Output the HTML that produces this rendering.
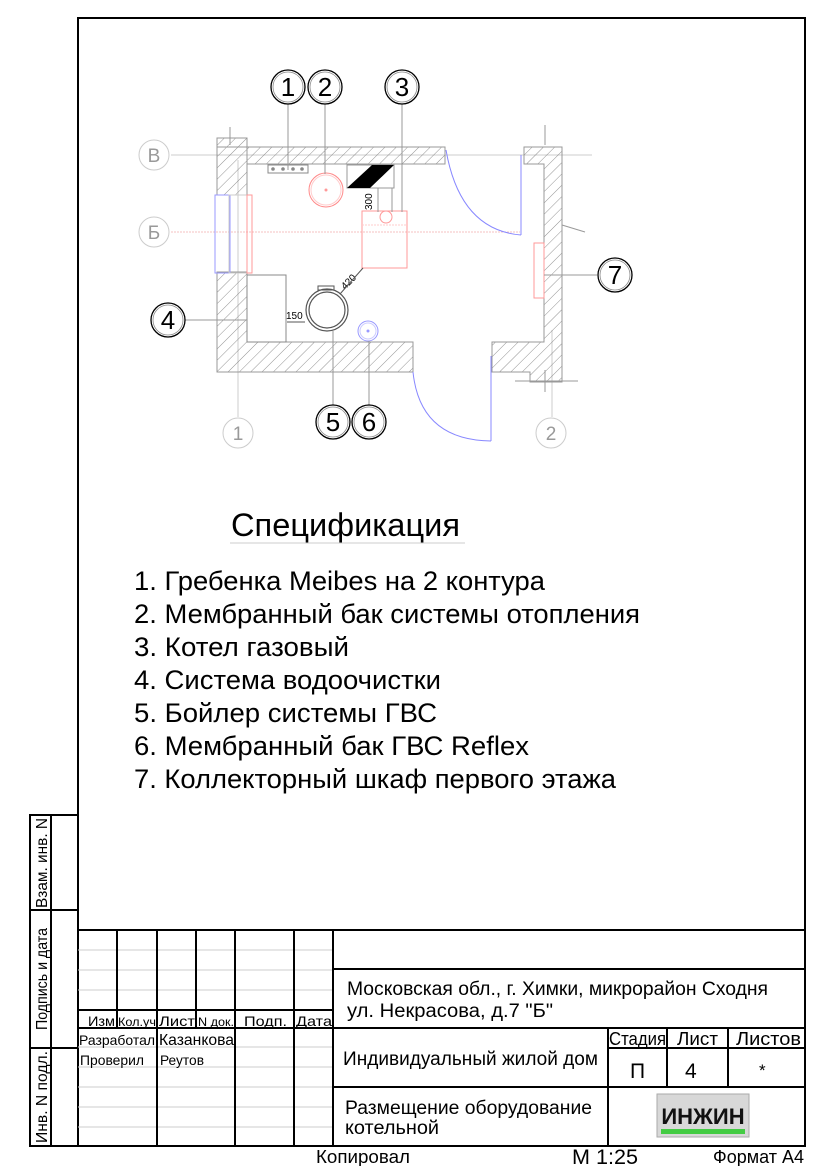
<!DOCTYPE html>
<html><head><meta charset="utf-8"><style>
html,body{margin:0;padding:0;background:#fff}
svg{display:block}
text{font-family:"Liberation Sans","DejaVu Sans",sans-serif}
</style></head><body>
<svg width="824" height="1166" viewBox="0 0 824 1166" xmlns="http://www.w3.org/2000/svg">
<defs>
<pattern id="h" width="8" height="8" patternUnits="userSpaceOnUse" patternTransform="rotate(45)">
<line x1="0" y1="0" x2="0" y2="8" stroke="#777" stroke-width="0.8"/>
</pattern>
</defs>
<rect width="824" height="1166" fill="#fff"/>
<rect x="78" y="18" width="727" height="1128" fill="none" stroke="#000" stroke-width="2"/>
<g stroke="#000" stroke-width="2" fill="none">
<rect x="30" y="815" width="48" height="331"/>
<line x1="51" y1="815" x2="51" y2="1146"/>
<line x1="30" y1="910" x2="78" y2="910"/>
<line x1="30" y1="1048" x2="78" y2="1048"/>
</g>
<g font-size="16" fill="#000">
<text transform="translate(47,908) rotate(-90)" textLength="90" lengthAdjust="spacingAndGlyphs">Взам. инв. N</text>
<text transform="translate(47,1030) rotate(-90)" textLength="102" lengthAdjust="spacingAndGlyphs">Подпись и дата</text>
<text transform="translate(47,1143) rotate(-90)" textLength="92" lengthAdjust="spacingAndGlyphs">Инв. N подл.</text>
</g>
<g stroke="#ccc" stroke-width="1">
<line x1="78" y1="950" x2="333" y2="950"/><line x1="78" y1="970" x2="333" y2="970"/><line x1="78" y1="990" x2="333" y2="990"/>
<line x1="78" y1="1047" x2="333" y2="1047"/><line x1="78" y1="1067" x2="333" y2="1067"/><line x1="78" y1="1087" x2="333" y2="1087"/><line x1="78" y1="1107" x2="333" y2="1107"/><line x1="78" y1="1127" x2="333" y2="1127"/>
</g>
<g stroke="#000" stroke-width="2" fill="none">
<line x1="78" y1="930" x2="805" y2="930"/>
<line x1="78" y1="1010" x2="333" y2="1010"/>
<line x1="78" y1="1028" x2="805" y2="1028"/>
<line x1="333" y1="969" x2="805" y2="969"/>
<line x1="333" y1="1087" x2="805" y2="1087"/>
<line x1="608" y1="1048" x2="805" y2="1048"/>
<line x1="117" y1="930" x2="117" y2="1028"/>
<line x1="157" y1="930" x2="157" y2="1146"/>
<line x1="196" y1="930" x2="196" y2="1028"/>
<line x1="235" y1="930" x2="235" y2="1146"/>
<line x1="294" y1="930" x2="294" y2="1146"/>
<line x1="333" y1="930" x2="333" y2="1146"/>
<line x1="608" y1="1028" x2="608" y2="1146"/>
<line x1="667" y1="1028" x2="667" y2="1087"/>
<line x1="728" y1="1028" x2="728" y2="1087"/>
</g>
<g fill="#000">
<text x="88" y="1026" font-size="14" textLength="27" lengthAdjust="spacingAndGlyphs">Изм</text>
<text x="118" y="1026" font-size="12" textLength="38" lengthAdjust="spacingAndGlyphs">Кол.уч</text>
<text x="159" y="1026" font-size="14" textLength="36" lengthAdjust="spacingAndGlyphs">Лист</text>
<text x="198" y="1026" font-size="12" textLength="36" lengthAdjust="spacingAndGlyphs">N док.</text>
<text x="244" y="1026" font-size="14" textLength="43" lengthAdjust="spacingAndGlyphs">Подп.</text>
<text x="296" y="1026" font-size="14" textLength="36" lengthAdjust="spacingAndGlyphs">Дата</text>
<text x="79" y="1045" font-size="14" textLength="76" lengthAdjust="spacingAndGlyphs">Разработал</text>
<text x="159" y="1045" font-size="16" textLength="75" lengthAdjust="spacingAndGlyphs">Казанкова</text>
<text x="80" y="1065" font-size="14" textLength="64" lengthAdjust="spacingAndGlyphs">Проверил</text>
<text x="160" y="1065" font-size="14" textLength="44" lengthAdjust="spacingAndGlyphs">Реутов</text>
<text x="347" y="995" font-size="19" textLength="421" lengthAdjust="spacingAndGlyphs">Московская обл., г. Химки, микрорайон Сходня</text>
<text x="347" y="1017" font-size="19" textLength="206" lengthAdjust="spacingAndGlyphs">ул. Некрасова, д.7 "Б"</text>
<text x="343" y="1065" font-size="19" textLength="255" lengthAdjust="spacingAndGlyphs">Индивидуальный жилой дом</text>
<text x="345" y="1114" font-size="19" textLength="247" lengthAdjust="spacingAndGlyphs">Размещение оборудование</text>
<text x="345" y="1134" font-size="19" textLength="94" lengthAdjust="spacingAndGlyphs">котельной</text>
<text x="609" y="1045" font-size="18" textLength="57" lengthAdjust="spacingAndGlyphs">Стадия</text>
<text x="677" y="1045" font-size="18" textLength="41" lengthAdjust="spacingAndGlyphs">Лист</text>
<text x="736" y="1045" font-size="18" textLength="65" lengthAdjust="spacingAndGlyphs">Листов</text>
<text x="630" y="1078" font-size="21">П</text>
<text x="685" y="1078" font-size="21">4</text>
<text x="759" y="1076" font-size="17">*</text>
<text x="316" y="1163" font-size="18" textLength="94" lengthAdjust="spacingAndGlyphs">Копировал</text>
<text x="572" y="1164" font-size="21" textLength="66" lengthAdjust="spacingAndGlyphs">М 1:25</text>
<text x="713" y="1163" font-size="18" textLength="91" lengthAdjust="spacingAndGlyphs">Формат А4</text>
</g>
<rect x="657" y="1094" width="92" height="43" fill="#d8d8d8" stroke="#aaa"/>
<text x="703" y="1124" font-size="22" font-weight="bold" text-anchor="middle" fill="#111">ИНЖИН</text>
<rect x="661" y="1129" width="84" height="5" fill="#4c4"/>
<g fill="#000">
<text x="231" y="536" font-size="32" textLength="229" lengthAdjust="spacingAndGlyphs">Спецификация</text>
<line x1="230" y1="543" x2="465" y2="543" stroke="#ccc"/>
<text x="134" y="590" font-size="27" textLength="411" lengthAdjust="spacingAndGlyphs">1. Гребенка Meibes на 2 контура</text>
<text x="134" y="623" font-size="27" textLength="506" lengthAdjust="spacingAndGlyphs">2. Мембранный бак системы отопления</text>
<text x="134" y="656" font-size="27" textLength="215" lengthAdjust="spacingAndGlyphs">3. Котел газовый</text>
<text x="134" y="689" font-size="27" textLength="307" lengthAdjust="spacingAndGlyphs">4. Система водоочистки</text>
<text x="134" y="722" font-size="27" textLength="303" lengthAdjust="spacingAndGlyphs">5. Бойлер системы ГВС</text>
<text x="134" y="755" font-size="27" textLength="395" lengthAdjust="spacingAndGlyphs">6. Мембранный бак ГВС Reflex</text>
<text x="134" y="788" font-size="27" textLength="482" lengthAdjust="spacingAndGlyphs">7. Коллекторный шкаф первого этажа</text>
</g>
<g stroke="#ccc" stroke-width="1" fill="none">
<line x1="171" y1="155" x2="592" y2="155"/>
<line x1="171" y1="232" x2="520" y2="232" stroke="#f4c0c0" stroke-dasharray="2,1"/>
<line x1="238" y1="160" x2="238" y2="417"/>
<line x1="552" y1="330" x2="552" y2="417"/>
<circle cx="154" cy="155" r="15"/><circle cx="154" cy="232" r="15"/>
<circle cx="238" cy="433" r="15"/><circle cx="551" cy="433" r="15"/>
</g>
<g fill="#999" font-size="19" text-anchor="middle">
<text x="154" y="162">В</text><text x="154" y="239">Б</text>
<text x="238" y="440">1</text><text x="551" y="440">2</text>
</g>
<g fill="url(#h)" stroke="#999" stroke-width="1">
<path d="M217,138 H247 V164 H445 V147 H217 Z"/>
<path d="M217,147 H247 V195 H217 Z"/>
<path d="M217,272 H247 V342 H413 V372 H217 Z"/>
<path d="M492,342 H544 V164 H524 V147 H562 V382 H530 V372 H492 Z"/>
</g>
<g stroke="#999" fill="none" stroke-width="1">
<line x1="230" y1="127" x2="230" y2="145"/><line x1="545" y1="125" x2="545" y2="145"/>
<line x1="562" y1="225" x2="585" y2="232"/><line x1="515" y1="381" x2="578" y2="381"/>
<line x1="545" y1="370" x2="545" y2="392"/>
</g>
<g stroke="#aab" fill="none" stroke-width="1">
<rect x="215" y="195" width="15" height="78" stroke="#99f"/>
<rect x="229" y="195" width="18" height="78" stroke="#ccc"/>
<rect x="247" y="195" width="5" height="78" stroke="#f99"/>
</g>
<g stroke="#88f" fill="none" stroke-width="1">
<path d="M446,150 Q460,230 521,235"/><line x1="521" y1="155" x2="521" y2="235"/>
<path d="M413,372 Q420,440 491,441"/><line x1="491" y1="356" x2="491" y2="441"/>
</g>
<rect x="268" y="165" width="40" height="8" fill="none" stroke="#888"/>
<g fill="#888"><circle cx="273" cy="169" r="1.8"/><circle cx="283" cy="169" r="1.8"/><circle cx="293" cy="169" r="1.8"/><circle cx="302" cy="169" r="1.8"/></g>
<circle cx="326" cy="190" r="17" fill="none" stroke="#f88"/><circle cx="326" cy="190" r="15" fill="none" stroke="#fcc"/>
<rect x="347" y="165" width="47" height="23" fill="none" stroke="#999"/>
<polygon points="347,188 372,165 394,165 370,188" fill="#000"/>
<rect x="362" y="211" width="45" height="57" fill="none" stroke="#f99"/>
<line x1="362" y1="225" x2="407" y2="225" stroke="#fcc" stroke-dasharray="2,1"/>
<circle cx="386" cy="217" r="6" fill="none" stroke="#f99"/>
<line x1="378" y1="188" x2="378" y2="212" stroke="#999"/><line x1="392" y1="188" x2="392" y2="212" stroke="#999"/>
<text transform="translate(372,210) rotate(-90)" font-size="10">300</text>
<text transform="translate(345,290) rotate(-45)" font-size="10">420</text>
<line x1="340" y1="294" x2="363" y2="268" stroke="#555"/>
<rect x="247" y="275" width="39" height="67" fill="none" stroke="#888"/>
<text x="286" y="319" font-size="10">150</text>
<line x1="287" y1="322" x2="305" y2="322" stroke="#555"/>
<circle cx="327" cy="310" r="21" fill="none" stroke="#555" stroke-width="1.2"/>
<circle cx="327" cy="310" r="18" fill="none" stroke="#555" stroke-width="1.2"/>
<rect x="318" y="286" width="16" height="4" fill="none" stroke="#555"/>
<circle cx="368" cy="331" r="10" fill="none" stroke="#99f"/><circle cx="368" cy="331" r="8" fill="none" stroke="#ccf"/>
<circle cx="368" cy="331" r="1.5" fill="#99f"/><circle cx="326" cy="190" r="1.5" fill="#f99"/>
<rect x="534" y="243" width="10" height="55" fill="none" stroke="#f99"/>
<g stroke="#999" fill="none">
<line x1="288" y1="104" x2="288" y2="170"/>
<line x1="325" y1="104" x2="325" y2="174"/>
<line x1="402" y1="104" x2="402" y2="212"/>
<line x1="185" y1="320" x2="247" y2="320"/>
<line x1="333" y1="331" x2="333" y2="405"/>
<line x1="369" y1="341" x2="369" y2="405"/>
<line x1="544" y1="275" x2="597" y2="275"/>
</g>
<g fill="#fff" stroke="#000" stroke-width="1.3">
<circle cx="288" cy="87" r="17"/><circle cx="288" cy="87" r="15" stroke="#888" stroke-width="0.8"/>
<circle cx="325" cy="87" r="17"/><circle cx="325" cy="87" r="15" stroke="#888" stroke-width="0.8"/>
<circle cx="402" cy="87" r="17"/><circle cx="402" cy="87" r="15" stroke="#888" stroke-width="0.8"/>
<circle cx="168" cy="320" r="17"/><circle cx="168" cy="320" r="15" stroke="#888" stroke-width="0.8"/>
<circle cx="333" cy="422" r="17"/><circle cx="333" cy="422" r="15" stroke="#888" stroke-width="0.8"/>
<circle cx="369" cy="422" r="17"/><circle cx="369" cy="422" r="15" stroke="#888" stroke-width="0.8"/>
<circle cx="615" cy="275" r="17"/><circle cx="615" cy="275" r="15" stroke="#888" stroke-width="0.8"/>
</g>
<g fill="#000" font-size="26" text-anchor="middle">
<text x="288" y="96">1</text><text x="325" y="96">2</text><text x="402" y="96">3</text>
<text x="168" y="329">4</text><text x="333" y="431">5</text><text x="369" y="431">6</text><text x="615" y="284">7</text>
</g>
</svg>
</body></html>
